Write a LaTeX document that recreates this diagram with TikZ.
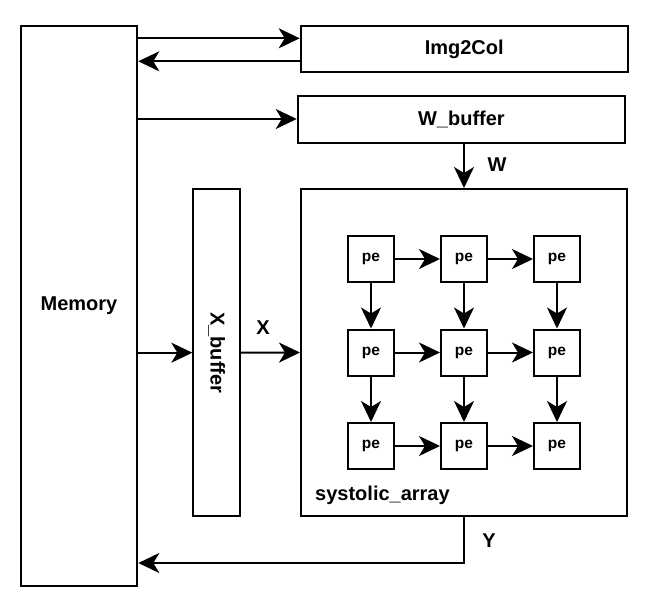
\documentclass[tikz,border=0pt]{standalone}
\usepackage{fontspec}
\setmainfont{Liberation Sans}
\usetikzlibrary{arrows.meta}
\begin{document}
\begin{tikzpicture}[x=1pt,y=-1pt,
  box/.style={draw, line width=2pt, inner sep=0pt, font=\fontsize{20}{23}\selectfont\bfseries},
  pebox/.style={draw, line width=2pt, inner sep=0pt, minimum width=46pt, minimum height=46pt, font=\fontsize{15.5}{18}\selectfont\bfseries},
  lbl/.style={inner sep=0pt, font=\fontsize{20}{23}\selectfont\bfseries},
  arr/.style={line width=2pt, -{Stealth[length=21pt,width=20pt,inset=6pt]}}
]
\useasboundingbox (0,0) rectangle (654,605);
\fill[white] (0,0) rectangle (654,605);

\node[box, minimum width=116.6pt, minimum height=560pt] (mem) at (79,305.7) {Memory};
\node[box, minimum width=327pt, minimum height=46pt] (img) at (464.2,49) {Img2Col};
\node[box, minimum width=327.3pt, minimum height=46.7pt] (wbuf) at (461.4,119.7) {W\_buffer};
\node[box, minimum width=46.7pt, minimum height=326.7pt] (xbuf) at (216.7,352.7) {};
\node[lbl, rotate=-90] (xbuftxt) at (xbuf.center) {X\_buffer};
\node[box, minimum width=326pt, minimum height=327pt] (sys) at (464,352.5) {};
\node[lbl, anchor=west] (systxt) at (315,495) {systolic\_array};

\foreach \c/\x in {1/371,2/464,3/557}{
  \foreach \r/\y in {1/259,2/352.5,3/446}{
    \node[pebox] (pe\r\c) at (\x,\y) {pe};
  }
}
\foreach \r in {1,2,3}{
  \draw[arr] (pe\r1) -- (pe\r2);
  \draw[arr] (pe\r2) -- (pe\r3);
}
\foreach \c in {1,2,3}{
  \draw[arr] (pe1\c) -- (pe2\c);
  \draw[arr] (pe2\c) -- (pe3\c);
}

\draw[arr] (mem.east |- 0,38.3) -- (img.west |- 0,38.3);
\draw[arr] (img.west |- 0,61.3) -- (mem.east |- 0,61.3);
\draw[arr] (mem.east |- 0,119) -- (wbuf.west |- 0,119);
\draw[arr] (wbuf.south -| sys.north) -- (sys.north);
\node[lbl] (wl) at (497,165) {W};
\draw[arr] (mem.east |- xbuf.west) -- (xbuf.west);
\draw[arr] (xbuf.east) -- (sys.west);
\node[lbl] (xl) at (263,328) {X};
\coordinate (ycorner) at (464,563);
\draw[arr] (sys.south) -- (ycorner) -- (mem.east |- ycorner);
\node[lbl] (yl) at (489,541) {Y};
\end{tikzpicture}
\end{document}
